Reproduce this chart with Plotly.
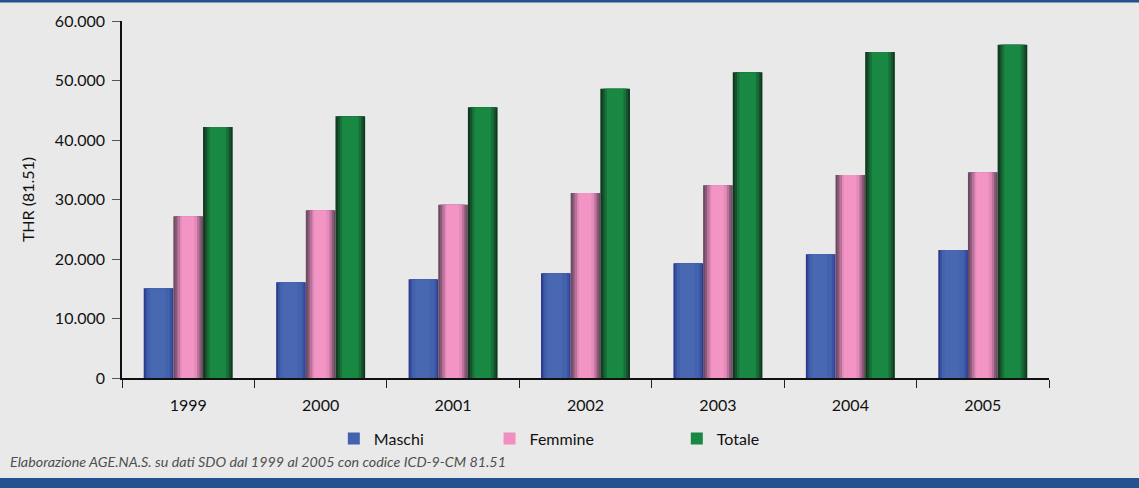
import plotly.graph_objects as go

# Annual THR (81.51) counts by sex
years = ["1999", "2000", "2001", "2002", "2003", "2004", "2005"]
maschi = [15100, 16100, 16600, 17600, 19300, 20800, 21500]
femmine = [27200, 28200, 29100, 31100, 32400, 34100, 34600]
totale = [42200, 44000, 45500, 48600, 51400, 54800, 56000]

series_names = ["Maschi", "Femmine", "Totale"]
series_values = [maschi, femmine, totale]

# Cylinder-like shading: nested strips (start, end as fraction of bar width, colour)
shading = {
    "Maschi": [(0.00, 1.00, "#2b3990"), (0.06, 0.96, "#3a52a2"),
               (0.12, 0.88, "#4262ad"), (0.22, 0.72, "#4868b1")],
    "Femmine": [(0.00, 1.00, "#6c4a60"), (0.06, 0.95, "#8c5878"),
                (0.13, 0.88, "#b8739c"), (0.22, 0.80, "#e58bb9"),
                (0.28, 0.70, "#f294c4")],
    "Totale": [(0.00, 1.00, "#0e3b1d"), (0.07, 0.94, "#17512d"),
               (0.14, 0.87, "#176f39"), (0.22, 0.78, "#188843")],
}
legend_colors = {"Maschi": "#4262ad", "Femmine": "#f090c0", "Totale": "#188843"}

bar_w = 0.224
group_start = -0.336
legend_ids = ["legend", "legend2", "legend3"]

fig = go.Figure()
for i, (name, vals) in enumerate(zip(series_names, series_values)):
    base = group_start + i * bar_w
    for k, (a, b, col) in enumerate(shading[name]):
        fig.add_trace(go.Bar(
            x=years, y=vals, name=name,
            offset=base + a * bar_w, width=(b - a) * bar_w,
            marker=dict(color=col, line=dict(width=0)),
            showlegend=False, hoverinfo="skip",
        ))
    # legend entry
    fig.add_trace(go.Bar(
        x=[None], y=[None], name=name,
        marker=dict(color=legend_colors[name], line=dict(width=0)),
        legend=legend_ids[i], showlegend=True,
    ))

font_family = "Lato, 'Open Sans', sans-serif"
band = "#24518f"

legend_common = dict(orientation="h", yanchor="middle", y=-0.17,
                     xanchor="left", bgcolor="rgba(0,0,0,0)",
                     font=dict(family=font_family, size=16, color="#111"))
fig.update_layout(
    barmode="overlay",
    width=1139, height=488,
    margin=dict(l=122, r=90, t=21, b=110),
    paper_bgcolor="#e9e9e9", plot_bgcolor="#e9e9e9",
    separators=",.",
    font=dict(family=font_family, size=16, color="#111"),
    legend=dict(x=0.2285, **legend_common),
    legend2=dict(x=0.3965, **legend_common),
    legend3=dict(x=0.5985, **legend_common),
    xaxis=dict(
        type="category", tickson="boundaries", ticks="outside", ticklen=8,
        tickcolor="#222", showline=True, linecolor="#111", linewidth=1.5,
        showgrid=False, ticklabelstandoff=12,
        tickfont=dict(family=font_family, size=16, color="#111"),
    ),
    yaxis=dict(
        range=[0, 60000], tickvals=[0, 10000, 20000, 30000, 40000, 50000, 60000],
        tickformat=",d", ticks="outside", ticklen=8, tickcolor="#555",
        showline=True, linecolor="#111", linewidth=1.5, showgrid=False,
        zeroline=False, ticklabelstandoff=4,
        tickfont=dict(family=font_family, size=16, color="#111"),
        title=dict(text="THR (81.51)", standoff=16,
                   font=dict(family=font_family, size=16, color="#111")),
    ),
    shapes=[
        dict(type="rect", xref="paper", yref="paper", x0=-0.2, x1=1.2,
             y0=(378 - 0) / 357, y1=(378 - 2.5) / 357, fillcolor=band,
             line=dict(width=0), layer="above"),
        dict(type="rect", xref="paper", yref="paper", x0=-0.2, x1=1.2,
             y0=(378 - 478) / 357, y1=(378 - 490) / 357, fillcolor=band,
             line=dict(width=0), layer="above"),
    ],
    annotations=[
        dict(text="<i>Elaborazione AGE.NA.S. su dati SDO dal 1999 al 2005 con codice ICD-9-CM 81.51</i>",
             xref="paper", yref="paper", x=(8 - 122) / 927, y=(378 - 461) / 357,
             xanchor="left", yanchor="middle", showarrow=False,
             font=dict(family=font_family, size=14.3, color="#4f4f4f")),
    ],
)

fig.write_html("out.html")
